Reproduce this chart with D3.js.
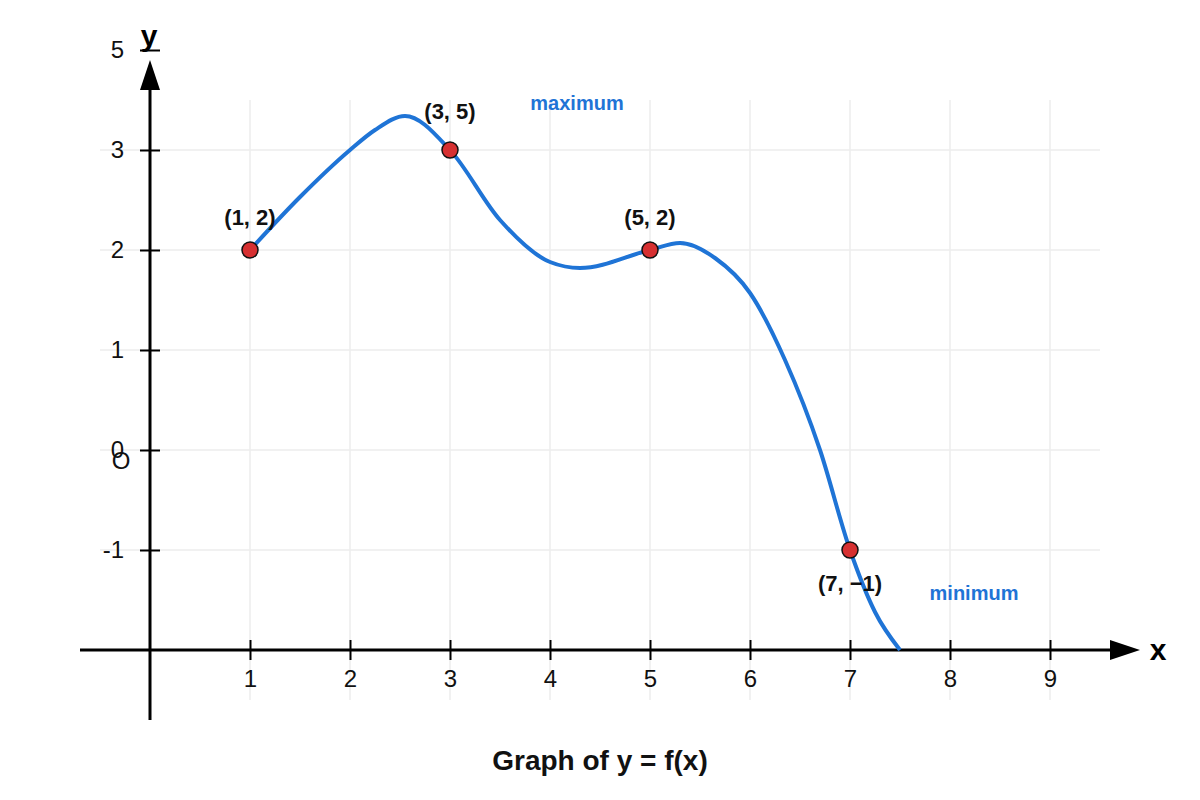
<!DOCTYPE html>
<html lang="en">
<head>
  <meta charset="UTF-8">
  <title>Graph of y = f(x)</title>
  <script src="https://d3js.org/d3.v7.min.js"></script>
  <style>
    body { margin: 0; background: #fff; }
    svg text { font-family: "Liberation Sans", Arial, sans-serif; }
  </style>
</head>
<body>
  <svg width="1200" height="800"></svg>

  <script>
    // Axis ticks
    const xTicks = [1, 2, 3, 4, 5, 6, 7, 8, 9];
    const yTicks = [4, 3, 2, 1, 0, -1];
    const yTickLabels = ["5", "3", "2", "1", "0", "-1"];
    const gridY = [3, 2, 1, 0, -1];

    // Curve samples
    const curveX = [1, 1.5, 2, 2.25, 2.55, 3, 3.5, 4, 4.3, 5, 5.3, 5.65, 6, 6.35, 6.7, 7, 7.25, 7.5];
    const curveY = [2, 2.53, 3.0, 3.2, 3.34, 3, 2.3, 1.88, 1.82, 2, 2.07, 1.92, 1.57, 0.9, 0.0, -1, -1.62, -2];

    // Marked points and their labels
    const ptX = [1, 3, 5, 7];
    const ptY = [2, 3, 2, -1];
    const ptLabel = ["(1, 2)", "(3, 5)", "(5, 2)", "(7, \u22121)"];
    const ptLift = [0.25, 0.31, 0.25, -0.41];

    // Annotations
    const noteText = ["maximum", "minimum"];
    const noteX = [4.27, 8.24];
    const noteY = [3.4, -1.5];

    const svg = d3.select("svg");
    const blue = "#1f74d6";

    const x = d3.scaleLinear().domain([0, 9]).range([150, 1050]);
    const y = d3.scaleLinear().domain([-2, 4]).range([650, 50]);

    // grid
    svg.append("g").selectAll("line")
      .data(xTicks).enter().append("line")
      .attr("x1", d => x(d)).attr("x2", d => x(d))
      .attr("y1", y(3.5)).attr("y2", y(-2.5))
      .attr("stroke", "#ececec").attr("stroke-width", 1.5);

    svg.append("g").selectAll("line")
      .data(gridY).enter().append("line")
      .attr("x1", x(-0.5)).attr("x2", x(9.5))
      .attr("y1", d => y(d)).attr("y2", d => y(d))
      .attr("stroke", "#ececec").attr("stroke-width", 1.5);

    // axis lines with arrows
    svg.append("line")
      .attr("x1", x(-0.7)).attr("x2", x(9.65))
      .attr("y1", y(-2)).attr("y2", y(-2))
      .attr("stroke", "#000").attr("stroke-width", 3);
    svg.append("path")
      .attr("d", `M${x(9.6)},${y(-2) - 10}L${x(9.9)},${y(-2)}L${x(9.6)},${y(-2) + 10}Z`)
      .attr("fill", "#000");

    svg.append("line")
      .attr("x1", x(0)).attr("x2", x(0))
      .attr("y1", y(-2.7)).attr("y2", y(3.65))
      .attr("stroke", "#000").attr("stroke-width", 3);
    svg.append("path")
      .attr("d", `M${x(0) - 10},${y(3.6)}L${x(0)},${y(3.9)}L${x(0) + 10},${y(3.6)}Z`)
      .attr("fill", "#000");

    // x axis ticks
    const gx = svg.append("g")
      .attr("transform", `translate(0,${y(-2)})`)
      .call(d3.axisBottom(x).tickValues(xTicks).tickSizeOuter(0).tickPadding(14));
    gx.select(".domain").remove();
    gx.selectAll(".tick line").attr("y1", -10).attr("y2", 10)
      .attr("stroke", "#000").attr("stroke-width", 2);
    gx.selectAll(".tick text")
      .style("font-size", "24px")
      .attr("fill", "#111");

    // y axis ticks
    const gy = svg.append("g")
      .attr("transform", `translate(${x(0)},0)`)
      .call(d3.axisLeft(y).tickValues(yTicks)
        .tickFormat((d, i) => yTickLabels[i]).tickSizeOuter(0).tickPadding(20));
    gy.select(".domain").remove();
    gy.selectAll(".tick line").attr("x1", -10).attr("x2", 10)
      .attr("stroke", "#000").attr("stroke-width", 2);
    gy.selectAll(".tick text")
      .style("font-size", "24px")
      .attr("fill", "#111").attr("dy", "0.32em");

    // origin
    svg.append("text")
      .attr("x", x(-0.29)).attr("y", y(-0.19))
      .attr("text-anchor", "middle")
      .style("font-size", "24px").attr("fill", "#111")
      .text("O");

    // axis names
    svg.append("text")
      .attr("x", x(-0.01)).attr("y", y(4.04))
      .attr("text-anchor", "middle")
      .style("font-size", "30px").style("font-weight", "bold")
      .text("y");
    svg.append("text")
      .attr("x", x(10.08)).attr("y", y(-2.1))
      .attr("text-anchor", "middle")
      .style("font-size", "30px").style("font-weight", "bold")
      .text("x");

    // curve
    const curveData = curveX.map((d, i) => [d, curveY[i]]);
    const line = d3.line()
      .x(d => x(d[0])).y(d => y(d[1]))
      .curve(d3.curveMonotoneX);
    svg.append("path")
      .datum(curveData)
      .attr("d", line)
      .attr("fill", "none")
      .attr("stroke", blue)
      .attr("stroke-width", 4);

    // points
    const pts = ptX.map((d, i) => ({ x: d, y: ptY[i], label: ptLabel[i], lift: ptLift[i] }));
    svg.append("g").selectAll("circle")
      .data(pts).enter().append("circle")
      .attr("cx", d => x(d.x)).attr("cy", d => y(d.y))
      .attr("r", 8)
      .attr("fill", "#d63031")
      .attr("stroke", "#111").attr("stroke-width", 1.5);

    svg.append("g").selectAll("text")
      .data(pts).enter().append("text")
      .attr("x", d => x(d.x))
      .attr("y", d => y(d.y + d.lift))
      .attr("text-anchor", "middle")
      .style("font-size", "22px").style("font-weight", "bold")
      .attr("fill", "#111")
      .text(d => d.label);

    // annotations
    svg.append("g").selectAll("text")
      .data(noteText).enter().append("text")
      .attr("x", (d, i) => x(noteX[i]))
      .attr("y", (d, i) => y(noteY[i]))
      .attr("text-anchor", "middle")
      .style("font-size", "20px").style("font-weight", "bold")
      .attr("fill", blue)
      .text(d => d);

    // title
    svg.append("text")
      .attr("x", 600).attr("y", 770)
      .attr("text-anchor", "middle")
      .style("font-size", "28px").style("font-weight", "bold")
      .attr("fill", "#111")
      .text("Graph of y = f(x)");
  </script>
</body>
</html>
